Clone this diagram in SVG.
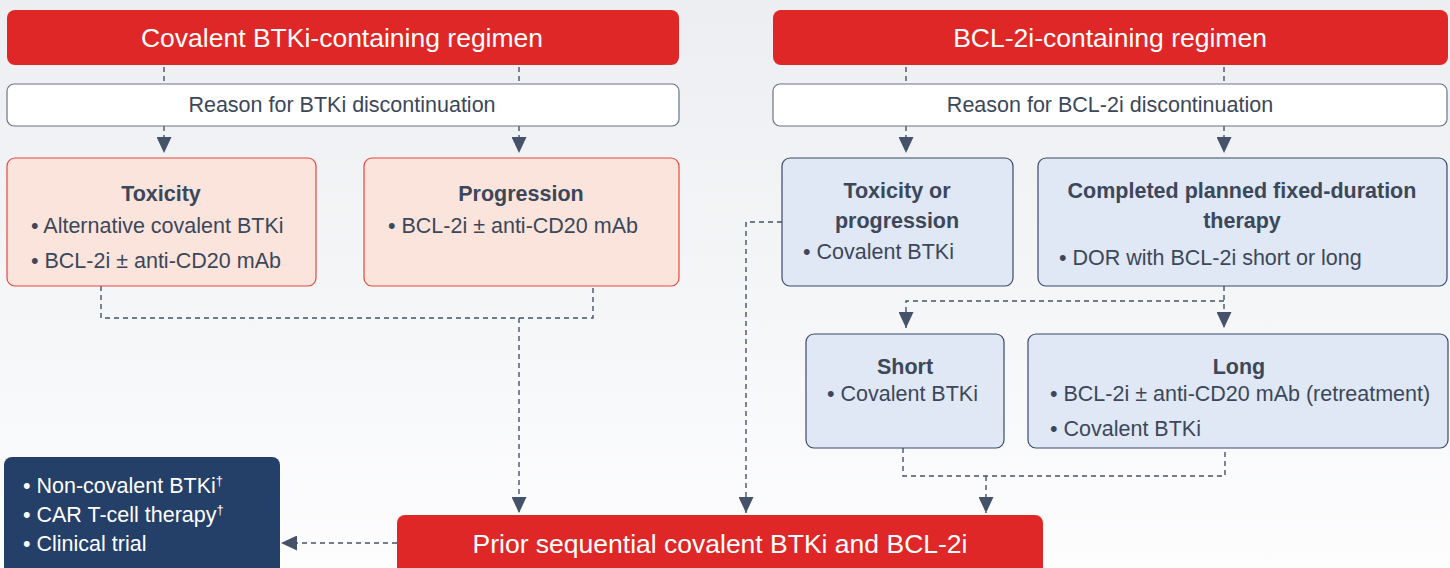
<svg xmlns="http://www.w3.org/2000/svg" width="1450" height="568" viewBox="0 0 1450 568">
<defs>
<linearGradient id="bg" x1="0" y1="0" x2="0" y2="1">
<stop offset="0" stop-color="#eceef1"/>
<stop offset="1" stop-color="#fdfdfe"/>
</linearGradient>
<marker id="ah" viewBox="0 0 16 15" refX="16" refY="7.5" markerWidth="16" markerHeight="15" markerUnits="userSpaceOnUse" orient="auto">
<path d="M0,0 L16,7.5 L0,15 Z" fill="#44536a"/>
</marker>
<style>
.red{fill:#e02727}
.wht{fill:#ffffff;stroke:#6b7587;stroke-width:1.2}
.pink{fill:#fae4dc;stroke:#e8473f;stroke-width:1.2}
.blue{fill:#dfe8f4;stroke:#3a4b66;stroke-width:1.2}
.navy{fill:#243f68}
.t{font-family:"Liberation Sans",Arial,sans-serif;font-size:21.5px;fill:#3c475a}
.b{font-weight:bold;text-anchor:middle}
.c{text-anchor:middle}
.ti{font-family:"Liberation Sans",Arial,sans-serif;font-size:26.5px;fill:#ffffff;text-anchor:middle}
.w{fill:#ffffff}
.con path{fill:none;stroke:#44536a;stroke-width:1.4;stroke-dasharray:5 4}
</style>
</defs>
<rect width="1450" height="568" fill="url(#bg)"/>

<g class="con">
<path d="M164,67 V84"/>
<path d="M519,67 V84"/>
<path d="M906,67 V84"/>
<path d="M1224,67 V84"/>
<path d="M164,126 V153" marker-end="url(#ah)"/>
<path d="M519,126 V153" marker-end="url(#ah)"/>
<path d="M906,126 V153" marker-end="url(#ah)"/>
<path d="M1224,126 V153" marker-end="url(#ah)"/>
<path d="M101,286 V318 H593 V286"/>
<path d="M519,318 V513" marker-end="url(#ah)"/>
<path d="M782,222 H746 V513" marker-end="url(#ah)"/>
<path d="M1224,286 V328" marker-end="url(#ah)"/>
<path d="M1224,301 H906 V328" marker-end="url(#ah)"/>
<path d="M903,448 V476 H1225 V448"/>
<path d="M986,476 V513" marker-end="url(#ah)"/>
<path d="M397,543 H281" marker-end="url(#ah)"/>
</g>

<g id="btki-regimen">
<rect class="red" x="7" y="10" width="672" height="55" rx="8"/>
<text class="ti" x="342" y="47">Covalent BTKi-containing regimen</text>
</g>
<g id="bcl2-regimen">
<rect class="red" x="773" y="10" width="675" height="55" rx="8"/>
<text class="ti" x="1110" y="47">BCL-2i-containing regimen</text>
</g>
<g id="btki-reason">
<rect class="wht" x="7" y="84" width="672" height="42" rx="7"/>
<text class="t c" x="342" y="112">Reason for BTKi discontinuation</text>
</g>
<g id="bcl2-reason">
<rect class="wht" x="773" y="84" width="674" height="42" rx="7"/>
<text class="t c" x="1110" y="112">Reason for BCL-2i discontinuation</text>
</g>

<g id="toxicity">
<rect class="pink" x="7" y="158" width="309" height="128" rx="8"/>
<text class="t b" x="161" y="201">Toxicity</text>
<text class="t" x="31" y="233">• Alternative covalent BTKi</text>
<text class="t" x="31" y="268">• BCL-2i ± anti-CD20 mAb</text>
</g>
<g id="progression">
<rect class="pink" x="364" y="158" width="315" height="128" rx="8"/>
<text class="t b" x="521" y="201">Progression</text>
<text class="t" x="388" y="233">• BCL-2i ± anti-CD20 mAb</text>
</g>

<g id="tox-or-prog">
<rect class="blue" x="782" y="158" width="231" height="128" rx="8"/>
<text class="t b" x="897" y="198">Toxicity or</text>
<text class="t b" x="897" y="228">progression</text>
<text class="t" x="803" y="259">• Covalent BTKi</text>
</g>
<g id="completed">
<rect class="blue" x="1038" y="158" width="409" height="128" rx="8"/>
<text class="t b" x="1242" y="198">Completed planned fixed-duration</text>
<text class="t b" x="1242" y="228">therapy</text>
<text class="t" x="1059" y="265">• DOR with BCL-2i short or long</text>
</g>

<g id="short">
<rect class="blue" x="806" y="334" width="198" height="114" rx="8"/>
<text class="t b" x="905" y="374">Short</text>
<text class="t" x="827" y="401">• Covalent BTKi</text>
</g>
<g id="long">
<rect class="blue" x="1028" y="334" width="420" height="114" rx="8"/>
<text class="t b" x="1239" y="374">Long</text>
<text class="t" x="1050" y="401">• BCL-2i ± anti-CD20 mAb (retreatment)</text>
<text class="t" x="1050" y="436">• Covalent BTKi</text>
</g>

<g id="prior-sequential">
<rect class="red" x="397" y="515" width="646" height="63" rx="8"/>
<text class="ti" x="720" y="553">Prior sequential covalent BTKi and BCL-2i</text>
</g>

<g id="options">
<rect class="navy" x="4" y="457" width="276" height="121" rx="8"/>
<text class="t w" x="23" y="493">• Non-covalent BTKi<tspan font-size="13" dy="-8">†</tspan></text>
<text class="t w" x="23" y="522">• CAR T-cell therapy<tspan font-size="13" dy="-8">†</tspan></text>
<text class="t w" x="23" y="551">• Clinical trial</text>
</g>
</svg>
